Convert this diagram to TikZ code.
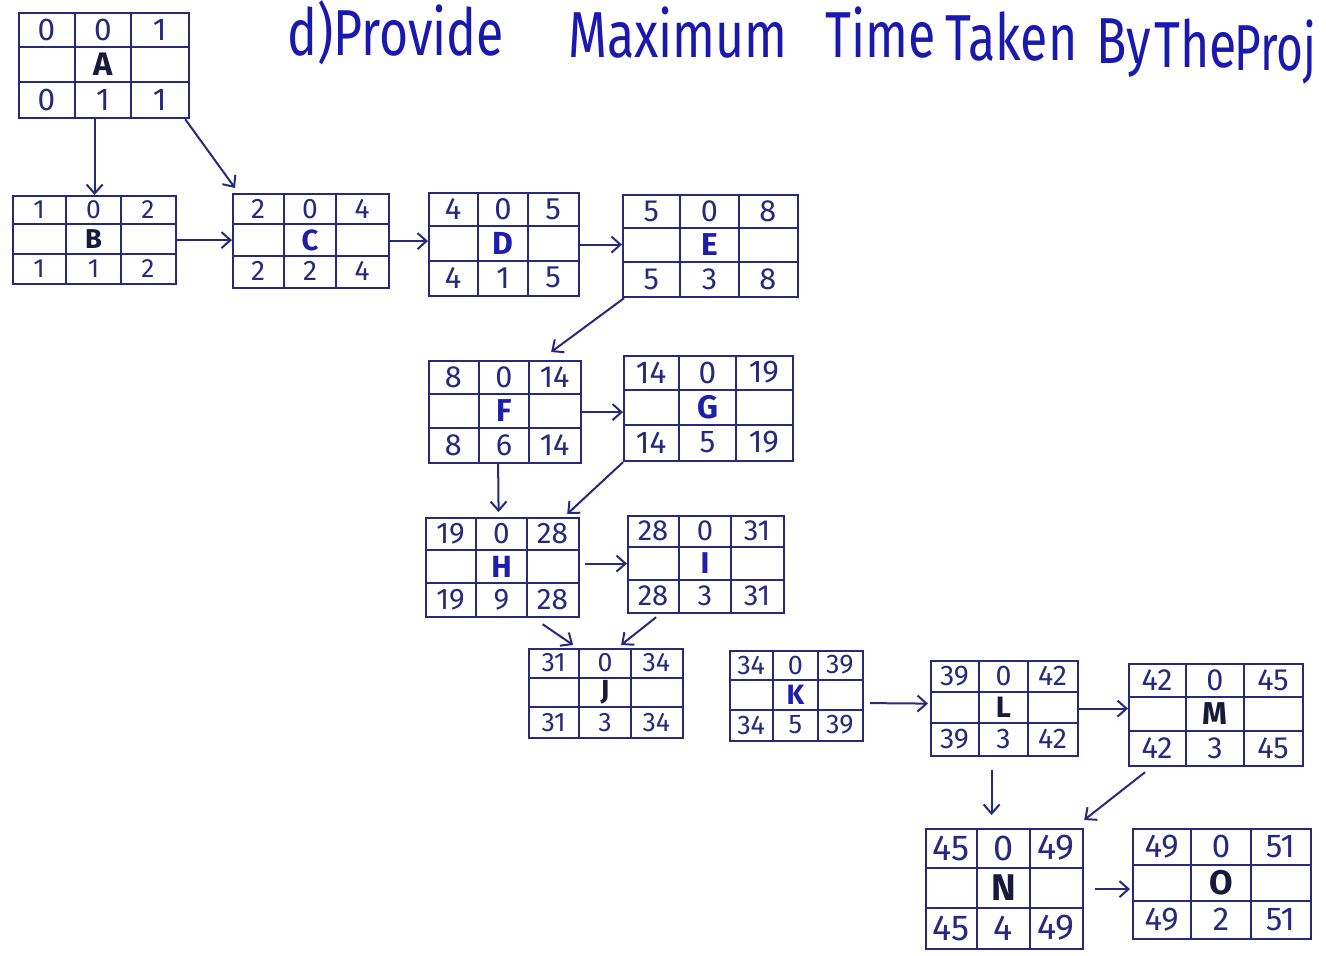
\documentclass[tikz,border=0pt]{standalone}
\usepackage{fontspec}
\setmainfont{Fira Sans}
\usetikzlibrary{arrows.meta,calc}
\definecolor{ink}{RGB}{40,40,125}
\definecolor{pen}{RGB}{25,25,175}
\definecolor{dark}{RGB}{25,25,60}
\definecolor{blu}{RGB}{30,30,170}
\tikzset{
  boxframe/.style={draw=ink, line width=2.2pt, inner sep=0pt},
  gridline/.style={draw=ink, line width=1.8pt},
  arr/.style={draw=ink, line width=2pt, -{Straight Barb[length=9pt,width=16pt]}},
  cell/.style={text=ink, inner sep=0pt},
  lab/.style={inner sep=0pt},
  titleword/.style={text=pen, anchor=base west, inner sep=0pt, yscale=1.3, font=\fontsize{50}{50}\selectfont}
}
% name, x, y, w, h, ES, EF, label, duration
\newcommand\actbox[9]{%
  \node[boxframe, minimum width=#4pt, minimum height=#5pt, anchor=north west] (#1) at (#2,#3) {};
  \draw[gridline] ({#2+#4/3},#3) -- ({#2+#4/3},{#3+#5});
  \draw[gridline] ({#2+2*#4/3},#3) -- ({#2+2*#4/3},{#3+#5});
  \draw[gridline] (#2,{#3+#5/3}) -- ({#2+#4},{#3+#5/3});
  \draw[gridline] (#2,{#3+2*#5/3}) -- ({#2+#4},{#3+2*#5/3});
  \pgfmathsetlengthmacro\cfs{#5*0.30}%
  \pgfmathsetlengthmacro\lfs{#5*0.31}%
  \node[cell, font=\fontsize{\cfs}{\cfs}\selectfont] at ({#2+#4/6},{#3+#5/6}) {#6};
  \node[cell, font=\fontsize{\cfs}{\cfs}\selectfont] at ({#2+#4/2},{#3+#5/6}) {0};
  \node[cell, font=\fontsize{\cfs}{\cfs}\selectfont] at ({#2+5*#4/6},{#3+#5/6}) {#7};
  \node[lab, font=\fontsize{\lfs}{\lfs}\selectfont\bfseries] at ({#2+#4/2},{#3+#5/2}) {#8};
  \node[cell, font=\fontsize{\cfs}{\cfs}\selectfont] at ({#2+#4/6},{#3+5*#5/6}) {#6};
  \node[cell, font=\fontsize{\cfs}{\cfs}\selectfont] at ({#2+#4/2},{#3+5*#5/6}) {#9};
  \node[cell, font=\fontsize{\cfs}{\cfs}\selectfont] at ({#2+5*#4/6},{#3+5*#5/6}) {#7};
}
\begin{document}
\begin{tikzpicture}[x=1pt,y=-1pt]
\clip (0,0) rectangle (1326,956);
\fill[white] (0,0) rectangle (1326,956);
% title
\node[titleword] (t1) at (287,55) {d)Provide};
\node[titleword] (t2) at (568,57) {Maximum};
\node[titleword] (t3) at (825,57) {Time};
\node[titleword] (t4) at (945,60) {Taken};
\node[titleword] (t5) at (1096,63) {By};
\node[titleword] (t6) at (1154,67) {The};
\node[titleword, xscale=0.92] (t7) at (1234,70) {Proj};
% activity boxes
\actbox{A}{18}{12}{170}{105}{0}{1}{\color{dark}A}{1}
\actbox{B}{12}{195}{163}{88}{1}{2}{\color{dark}B}{1}
\actbox{C}{232}{193}{156}{94}{2}{4}{\color{blu}C}{2}
\actbox{D}{428}{192}{150}{103}{4}{5}{\color{blu}D}{1}
\actbox{E}{622}{194}{175}{102}{5}{8}{\color{blu}E}{3}
\actbox{F}{428}{360}{152}{102}{8}{14}{\color{blu}F}{6}
\actbox{G}{623}{355}{169}{105}{14}{19}{\color{blu}G}{5}
\actbox{H}{425}{517}{153}{99}{19}{28}{\color{blu}H}{9}
\actbox{I}{627}{515}{156}{97}{28}{31}{\color{blu}I}{3}
\actbox{J}{528}{648}{154}{89}{31}{34}{\color{dark}J}{3}
\actbox{K}{729}{650}{133}{90}{34}{39}{\color{blu}K}{5}
\actbox{L}{930}{660}{147}{95}{39}{42}{\color{dark}L}{3}
\actbox{M}{1128}{663}{174}{102}{42}{45}{\color{dark}M}{3}
\actbox{N}{925}{828}{157}{120}{45}{49}{\color{dark}N}{4}
\actbox{O}{1132}{828}{178}{110}{49}{51}{\color{dark}O}{2}
% connectors
\draw[arr] (B.north |- A.south) -- (B.north);
\draw[arr] ([xshift=-5pt]A.south east) -- ([xshift=3pt,yshift=5pt]C.north west);
\draw[arr] (B.east) -- (B.east -| C.west);
\draw[arr] (C.east) -- (C.east -| D.west);
\draw[arr] (D.east) -- (D.east -| E.west);
\draw[arr] ([xshift=2pt]E.south west) -- ([xshift=46pt,yshift=8pt]F.north);
\draw[arr] (F.east) -- (F.east -| G.west);
\draw[arr] ([xshift=-7pt]F.south) -- ([xshift=-4pt,yshift=5pt]H.north);
\draw[arr] (G.south west) -- ([xshift=-13pt,yshift=3pt]H.north east);
\draw[arr] ([xshift=5pt,yshift=4pt]H.east) -- ([yshift=1pt]I.west);
\draw[arr] ([xshift=40pt,yshift=-6pt]H.south) -- ([xshift=-33pt,yshift=3pt]J.north);
\draw[arr] ([xshift=-50pt,yshift=-3pt]I.south) -- ([xshift=15pt,yshift=3pt]J.north);
\draw[arr] ([xshift=6pt,yshift=-7pt]K.east) -- ([xshift=-2pt,yshift=5pt]L.west);
\draw[arr] (L.east) -- (L.east -| M.west);
\draw[arr] ([xshift=-13pt,yshift=-13pt]L.south) -- ([xshift=-13pt,yshift=13pt]N.north);
\draw[arr] ([xshift=17pt,yshift=-5pt]M.south west) -- ([yshift=8pt]N.north east);
\draw[arr] ([xshift=11pt]N.east) -- ([xshift=-2pt]N.east -| O.west);
\end{tikzpicture}
\end{document}
